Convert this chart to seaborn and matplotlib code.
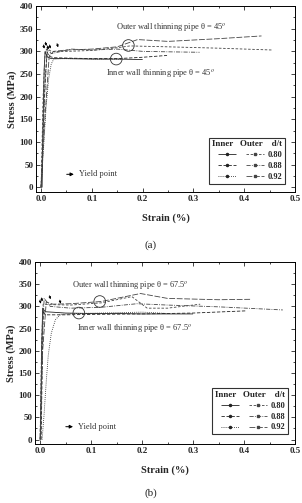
import numpy as np
import pandas as pd
import matplotlib
matplotlib.use("Agg")
import matplotlib.pyplot as plt
from matplotlib.lines import Line2D
from matplotlib.ticker import MultipleLocator
import seaborn as sns

# data (strain %, stress MPa)
# panel (a): theta = 45 deg
a_in080_x = [0.002, 0.004, 0.006, 0.008, 0.012, 0.02, 0.05, 0.1, 0.15, 0.2]
a_in080_y = [0, 150, 260, 300, 288, 284, 284, 283, 283, 282]
a_in088_x = [0.0, 0.004, 0.008, 0.012, 0.016, 0.025, 0.06, 0.1, 0.15, 0.2, 0.248]
a_in088_y = [0, 120, 240, 298, 289, 286, 285, 284, 284, 287, 291]
a_in092_x = [0.0, 0.005, 0.01, 0.015, 0.02, 0.025, 0.04, 0.08, 0.12, 0.16]
a_in092_y = [0, 90, 180, 240, 272, 283, 284, 284, 283, 283]
a_out080_x = [0.0, 0.004, 0.008, 0.012, 0.02, 0.05, 0.1, 0.15, 0.175, 0.25, 0.35, 0.455]
a_out080_y = [0, 200, 300, 306, 300, 300, 302, 308, 312, 310, 307, 303]
a_out088_x = [0.0, 0.006, 0.012, 0.02, 0.04, 0.06, 0.1, 0.15, 0.2, 0.25, 0.312]
a_out088_y = [0, 180, 305, 295, 300, 305, 303, 305, 300, 299, 298]
a_out092_x = [0.0, 0.008, 0.016, 0.025, 0.05, 0.1, 0.15, 0.19, 0.25, 0.35, 0.434]
a_out092_y = [0, 160, 290, 300, 303, 305, 310, 326, 322, 328, 334]
a_yield_x = [0.008, 0.012, 0.016, 0.02, 0.035]
a_yield_y = [300, 306, 298, 300, 303]
a_circle_x = [0.172, 0.148]
a_circle_y = [313, 283]

# panel (b): theta = 67.5 deg
b_in080_x = [0.001, 0.003, 0.005, 0.01, 0.05, 0.1, 0.15, 0.2, 0.25, 0.3]
b_in080_y = [0, 200, 296, 288, 285, 284, 284, 283, 283, 283]
b_in088_x = [0.002, 0.004, 0.006, 0.01, 0.05, 0.1, 0.2, 0.3, 0.405]
b_in088_y = [0, 150, 290, 281, 281, 282, 283, 285, 290]
b_in092_x = [0.004, 0.008, 0.012, 0.016, 0.022, 0.03, 0.04, 0.07, 0.12, 0.2, 0.25]
b_in092_y = [0, 60, 130, 190, 240, 270, 282, 284, 285, 287, 284]
b_out080_x = [0.0, 0.003, 0.006, 0.02, 0.06, 0.12, 0.18, 0.21, 0.25, 0.314]
b_out080_y = [0, 220, 305, 304, 303, 308, 322, 296, 296, 305]
b_out088_x = [0.0, 0.004, 0.008, 0.02, 0.06, 0.12, 0.19, 0.25, 0.35, 0.476]
b_out088_y = [0, 230, 318, 300, 296, 298, 306, 303, 299, 292]
b_out092_x = [0.0, 0.005, 0.012, 0.025, 0.06, 0.12, 0.197, 0.25, 0.35, 0.415]
b_out092_y = [0, 200, 310, 305, 306, 311, 329, 318, 315, 316]
b_yield_x = [0.003, 0.006, 0.022, 0.042]
b_yield_y = [300, 305, 310, 300]
b_circle_x = [0.117, 0.076]
b_circle_y = [311, 285]

dt_labels = ["0.80", "0.88", "0.92"]
inner_styles = [(0, ()), (0, (4, 2)), (0, (1, 1.5))]
outer_styles = [(0, (3, 2)), (0, (5, 1.5, 1, 1.5)), (0, (7, 2))]

sns.set_theme(style="ticks")
plt.rcParams["font.family"] = ["Liberation Serif", "DejaVu Serif"]
plt.rcParams["mathtext.fontset"] = "stix"

fig = plt.figure(figsize=(3.02, 5.03), dpi=100)
ax_a = fig.add_axes([36 / 302, 1 - 192 / 503, 259 / 302, 186 / 503])
ax_b = fig.add_axes([35 / 302, 1 - 444 / 503, 260 / 302, 182 / 503])


def draw_panel(ax, inner, outer, yx, yy, cx, cy, angle, txt_out, txt_in, leg_box):
    for (x, y), ls in zip(inner, inner_styles):
        sns.lineplot(x=x, y=y, ax=ax, sort=False, estimator=None,
                     color="#222222", lw=0.6, linestyle=ls)
    for (x, y), ls in zip(outer, outer_styles):
        sns.lineplot(x=x, y=y, ax=ax, sort=False, estimator=None,
                     color="#444444", lw=0.6, linestyle=ls)
    # yield point arrows
    for x, y in zip(yx, yy):
        ax.annotate("", xy=(x, y), xytext=(x - 0.005, y + 20),
                    arrowprops=dict(arrowstyle="-|>", color="black", lw=0.6,
                                    mutation_scale=3))
    ax.scatter(cx, cy, s=70, facecolors="none", edgecolors="#333333", lw=0.6, zorder=5)
    ax.text(txt_out[0], txt_out[1], "Outer wall thinning pipe \u03b8 = " + angle + "$^o$",
            fontsize=6, color="#333333")
    ax.text(txt_in[0], txt_in[1], "Inner wall thinning pipe \u03b8 = " + angle + "$^o$",
            fontsize=6, color="#333333")
    ax.annotate("Yield point", xy=(0.058, 29), xytext=(0.075, 29), fontsize=6,
                va="center", color="#333333")
    ax.annotate("", xy=(0.07, 29), xytext=(0.045, 29),
                arrowprops=dict(arrowstyle="-|>", color="black", lw=0.7, mutation_scale=5))

    ax.set_xlim(-0.01, 0.5)
    ax.set_ylim(-10, 400)
    ax.xaxis.set_major_locator(MultipleLocator(0.1))
    ax.xaxis.set_minor_locator(MultipleLocator(0.05))
    ax.yaxis.set_major_locator(MultipleLocator(50))
    ax.yaxis.set_minor_locator(MultipleLocator(25))
    ax.tick_params(which="both", direction="in", top=True, right=True, width=0.6)
    ax.tick_params(which="major", length=3, labelsize=6.5, pad=2)
    ax.tick_params(which="minor", length=1.5)
    for lab in ax.get_xticklabels() + ax.get_yticklabels():
        lab.set_fontweight("bold")
    ax.set_xticks([0.0, 0.1, 0.2, 0.3, 0.4, 0.5])
    ax.set_xticklabels(["0.0", "0.1", "0.2", "0.3", "0.4", "0.5"], fontweight="bold")
    for s in ax.spines.values():
        s.set_linewidth(0.7)
        s.set_color("black")
    ax.set_xlabel("Strain (%)", fontsize=7.5, fontweight="bold", labelpad=8)
    ax.set_ylabel("Stress (MPa)", fontsize=7.5, fontweight="bold", labelpad=2)

    handles = []
    labels = []
    for ls in inner_styles:
        handles.append(Line2D([], [], color="#222222", lw=0.6, linestyle=ls,
                              marker="o", markersize=1.5))
        labels.append(" ")
    for ls, lab in zip(outer_styles, dt_labels):
        handles.append(Line2D([], [], color="#444444", lw=0.6, linestyle=ls,
                              marker="s", markersize=1.5))
        labels.append(lab)
    leg = ax.legend(handles, labels, ncol=2, loc="lower left", bbox_to_anchor=leg_box,
                    title="Inner   Outer    d/t", fontsize=6, title_fontsize=6.5,
                    frameon=True, fancybox=False, edgecolor="black", handlelength=2.2,
                    handletextpad=0.4, columnspacing=0.5, labelspacing=0.35,
                    borderpad=0.35, alignment="right")
    leg.get_frame().set_linewidth(0.8)
    leg.get_title().set_fontweight("bold")
    for t in leg.get_texts():
        t.set_fontweight("bold")


draw_panel(ax_a,
           [(a_in080_x, a_in080_y), (a_in088_x, a_in088_y), (a_in092_x, a_in092_y)],
           [(a_out080_x, a_out080_y), (a_out088_x, a_out088_y), (a_out092_x, a_out092_y)],
           a_yield_x, a_yield_y, a_circle_x, a_circle_y, "45",
           (0.148, 348), (0.127, 246), (0.652, 0.02))
draw_panel(ax_b,
           [(b_in080_x, b_in080_y), (b_in088_x, b_in088_y), (b_in092_x, b_in092_y)],
           [(b_out080_x, b_out080_y), (b_out088_x, b_out088_y), (b_out092_x, b_out092_y)],
           b_yield_x, b_yield_y, b_circle_x, b_circle_y, "67.5",
           (0.063, 341), (0.072, 246), (0.665, 0.03))

fig.text(151 / 302, 1 - 245 / 503, "(a)", ha="center", va="center", fontsize=8)
fig.text(151 / 302, 1 - 493 / 503, "(b)", ha="center", va="center", fontsize=8)

fig.savefig("out.png", dpi=100, facecolor="white")
